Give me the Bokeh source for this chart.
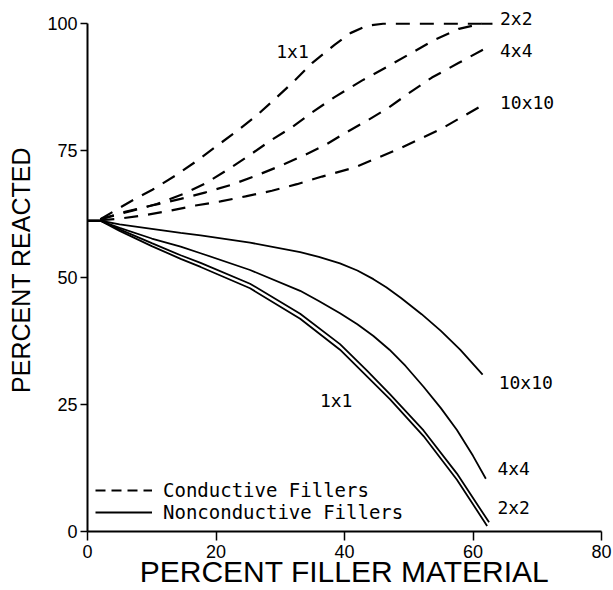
import math
from bokeh.plotting import figure
from bokeh.models import Range1d, Legend, LegendItem, FixedTicker
from bokeh.core.properties import value
from bokeh.embed import file_html
from bokeh.resources import INLINE

# ---------------- data ----------------
x_ticks = [0, 20, 40, 60, 80]
y_ticks = [0, 25, 50, 75, 100]

# Conductive fillers (dashed)
cond_1x1_x = [2, 6.7, 10.1, 13.7, 16.8, 20.2, 23.3, 26.4, 29.2, 32, 35, 38.5, 41, 43.5, 46, 50, 55, 60, 63]
cond_1x1_y = [61.5, 65, 67.3, 70.1, 72.8, 76, 78.9, 82, 85.2, 88.5, 92.3, 95.9, 98.2, 99.6, 100, 100, 100, 100, 100]
cond_2x2_x = [2, 7, 10.8, 15, 18.4, 22, 25.1, 28.5, 31.8, 34.9, 38.4, 42.7, 46.9, 50.5, 54, 57.8, 61.4, 63]
cond_2x2_y = [61.5, 63.2, 64.5, 66.5, 68.6, 71.4, 74, 77, 79.6, 82.5, 85.5, 88.8, 91.7, 94.3, 96.8, 99, 100, 100]
cond_4x4_x = [2, 6, 10, 14.5, 18.4, 22.2, 25.9, 29.8, 33.4, 37, 40, 43.5, 46.9, 50, 53.6, 57.8, 61.7, 62.5]
cond_4x4_y = [61.5, 63, 64.2, 65.5, 66.8, 68.2, 69.9, 71.9, 73.9, 76.1, 78.4, 80.9, 83.5, 86.3, 89.4, 92.3, 95, 95.4]
cond_10x10_x = [2, 4.9, 9, 12.9, 16.8, 20.7, 24.6, 28.7, 32.6, 36.5, 41.6, 48.9, 55.2, 61.4]
cond_10x10_y = [61.3, 61.6, 62.3, 63.2, 64.2, 65, 66, 67.1, 68.4, 69.9, 71.7, 75.6, 79.4, 83.9]

# Nonconductive fillers (solid)
non_10x10_x = [0, 2, 5, 10, 14.5, 17.6, 25.3, 33.1, 36, 39.3, 42, 44.5, 46.5, 48.8, 52, 55, 58, 61.5]
non_10x10_y = [61.2, 61.2, 60.5, 59.6, 58.8, 58.3, 56.9, 55.0, 54.1, 52.8, 51.4, 49.7, 48.1, 46.0, 42.8, 39.5, 35.8, 30.9]
non_4x4_x = [0, 2, 5, 10, 14.5, 17.6, 25.3, 33.1, 36, 39.3, 42, 44.5, 47, 49.5, 52.3, 55, 57.5, 60, 62]
non_4x4_y = [61.2, 61.2, 59.8, 57.7, 56.1, 54.8, 51.5, 47.4, 45.4, 43.0, 40.8, 38.5, 35.8, 32.6, 28.5, 24.3, 20.0, 14.9, 10.4]
non_2x2_x = [0, 2, 5, 10, 14.5, 17.6, 25.3, 33.1, 39.3, 43.5, 47.1, 52.3, 57.5, 62.5]
non_2x2_y = [61.2, 61.2, 59.5, 56.8, 54.4, 52.9, 48.8, 42.9, 36.9, 31.7, 27.0, 19.9, 11.4, 1.8]
non_1x1_x = [0, 2, 5, 10, 14.5, 17.6, 25.3, 33.1, 39.3, 47.1, 52.3, 57.5, 62.2]
non_1x1_y = [61.2, 61.2, 59.2, 56.2, 53.7, 52.1, 47.9, 41.9, 35.8, 26.0, 18.8, 10.2, 1.1]

# curve labels
right_labels = ["2x2", "4x4", "10x10", "10x10", "4x4", "2x2"]
right_label_x = [64.2, 64.2, 64.2, 64.0, 63.8, 63.8]
right_label_y = [101, 94.7, 84.4, 29.3, 12.4, 4.7]
center_labels = ["1x1", "1x1"]
center_label_x = [31.9, 38.7]
center_label_y = [94.5, 25.8]

x_title = "PERCENT FILLER MATERIAL"
y_title = "PERCENT REACTED"
legend_labels = ["Conductive Fillers", "Nonconductive Fillers"]

# ---------------- figure ----------------
p = figure(width=613, height=590, output_backend="svg", toolbar_location=None,
           x_range=Range1d(0, 80), y_range=Range1d(0, 103),
           min_border_left=87, min_border_right=12, min_border_top=8, min_border_bottom=59)
p.outline_line_color = None
p.grid.visible = False
p.background_fill_color = "white"

for ax in (p.xaxis, p.yaxis):
    ax.axis_line_width = 2
    ax.axis_line_color = "black"
    ax.major_tick_line_color = "black"
    ax.major_tick_line_width = 1.5
    ax.major_tick_in = 0
    ax.minor_tick_in = 0
    ax.minor_tick_out = 0
    ax.major_label_text_font = "Liberation Sans"
    ax.major_label_text_font_size = "18px"
    ax.major_label_text_color = "black"
    ax.axis_label_text_font = "Liberation Sans"
    ax.axis_label_text_font_style = "normal"
    ax.axis_label_text_color = "black"

p.xaxis.axis_label = x_title
p.yaxis.axis_label = y_title
p.xaxis.axis_label_text_font_size = "30px"
p.yaxis.axis_label_text_font_size = "25px"
p.xaxis.axis_label_standoff = -6
p.yaxis.axis_label_standoff = 9

p.xaxis.ticker = FixedTicker(ticks=x_ticks)
p.yaxis.ticker = FixedTicker(ticks=y_ticks)
p.xaxis.bounds = (0, 80)
p.yaxis.bounds = (0, 100)
p.xaxis.major_tick_out = 9
p.yaxis.major_tick_out = 7
p.xaxis.major_label_standoff = 4
p.yaxis.major_label_standoff = 3

dash = "14 10"
for xs, ys in [(cond_1x1_x, cond_1x1_y), (cond_2x2_x, cond_2x2_y),
               (cond_4x4_x, cond_4x4_y), (cond_10x10_x, cond_10x10_y)]:
    p.line(xs, ys, line_color="black", line_width=2.2, line_dash=dash)

for xs, ys in [(non_10x10_x, non_10x10_y), (non_4x4_x, non_4x4_y),
               (non_2x2_x, non_2x2_y), (non_1x1_x, non_1x1_y)]:
    p.line(xs, ys, line_color="black", line_width=1.8)

p.text(x=right_label_x, y=right_label_y, text=right_labels,
       text_font=value("DejaVu Sans Mono"), text_font_size="18px",
       text_align="left", text_baseline="middle", text_color="black")
p.text(x=center_label_x, y=center_label_y, text=center_labels,
       text_font=value("DejaVu Sans Mono"), text_font_size="18px",
       text_align="center", text_baseline="middle", text_color="black")

# legend (renderers with no visible data, used only for the key)
nan = float("nan")
r_c = p.line([nan], [nan], line_color="black", line_width=2, line_dash="10 6")
r_n = p.line([nan], [nan], line_color="black", line_width=2)
legend = Legend(items=[LegendItem(label=legend_labels[0], renderers=[r_c]),
                       LegendItem(label=legend_labels[1], renderers=[r_n])],
                location=(8, 8), padding=0, margin=0, spacing=0,
                glyph_width=57, glyph_height=16, label_height=16,
                label_standoff=11, label_text_font="DejaVu Sans Mono",
                label_text_font_size="19px", label_text_color="black",
                border_line_color=None, background_fill_alpha=0)
p.add_layout(legend)

open("out.html", "w").write(file_html(p, INLINE))
